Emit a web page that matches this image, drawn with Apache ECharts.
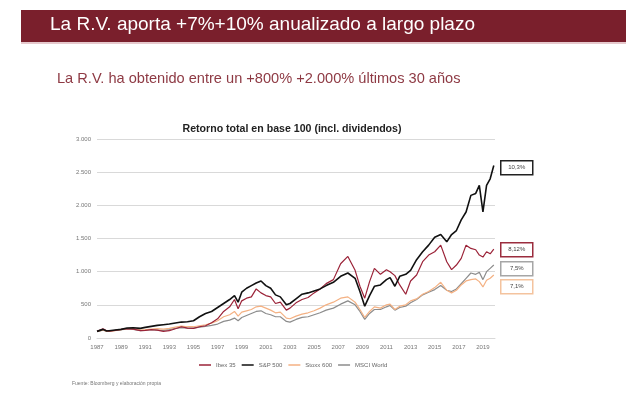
<!DOCTYPE html>
<html>
<head>
<meta charset="utf-8">
<script src="https://cdn.jsdelivr.net/npm/echarts@6/dist/echarts.min.js"></script>
<style>
  html, body { margin: 0; padding: 0; background: #fff; }
  #chart { width: 640px; height: 397px; }
</style>
</head>
<body>
<div id="chart"></div>
<script>
// fechas (año decimal) y valores en base 100
var dates = [1987.0, 1987.5, 1987.8, 1988.0, 1988.5, 1989.0, 1989.5, 1990.0, 1990.6, 1991.0,
  1991.5, 1992.0, 1992.5, 1993.0, 1993.5, 1994.0, 1994.5, 1995.0, 1995.5, 1996.0,
  1996.5, 1997.0, 1997.5, 1998.0, 1998.4, 1998.7, 1999.0, 1999.4, 1999.8, 2000.2,
  2000.6, 2001.0, 2001.4, 2001.8, 2002.2, 2002.7, 2003.0, 2003.5, 2004.0, 2004.5,
  2005.0, 2005.5, 2006.0, 2006.6, 2007.2, 2007.8, 2008.4, 2008.8, 2009.2, 2009.6,
  2010.0, 2010.5, 2011.0, 2011.3, 2011.7, 2012.1, 2012.6, 2013.0, 2013.5, 2014.0,
  2014.5, 2015.0, 2015.5, 2016.0, 2016.4, 2016.8, 2017.2, 2017.6, 2018.0, 2018.4,
  2018.7, 2019.0, 2019.3, 2019.6, 2019.9];

var ibex35 = [100, 140, 110, 105, 115, 130, 140, 135, 110, 115,
  125, 120, 100, 110, 140, 170, 150, 145, 170, 185,
  230, 290, 400, 470, 580, 440, 560, 600, 620, 740,
  680, 640, 620, 520, 540, 420, 450, 530, 580, 610,
  680, 740, 820, 880, 1120, 1230, 1020, 780, 600, 850,
  1050, 960, 1030, 1000, 940, 800, 660, 860, 950, 1150,
  1250, 1300, 1400, 1150, 1030, 1100, 1200, 1400, 1350, 1330,
  1250, 1220, 1300, 1270, 1340];

var sp500 = [100, 130, 105, 110, 120, 130, 150, 155, 145, 160,
  175, 190, 200, 210, 225, 240, 245, 260, 320, 370,
  400, 460, 520, 580, 640, 540, 690, 750, 790, 830,
  860, 790, 750, 650, 620, 500, 520, 590, 660, 680,
  710, 740, 790, 840, 930, 980, 900, 700, 480, 640,
  780, 800, 880, 910, 780, 930, 960, 1020, 1180, 1300,
  1400, 1520, 1560, 1450, 1560, 1620, 1780, 1900, 2150, 2180,
  2300, 1900, 2300, 2400, 2600];

var stoxx600 = [100, 120, 100, 100, 110, 125, 140, 145, 120, 125,
  135, 140, 135, 145, 165, 180, 170, 170, 185, 200,
  225, 260, 320, 350, 400, 330, 390, 410, 430, 470,
  480, 450, 420, 380, 390, 300, 290, 330, 360, 380,
  410, 450, 500, 540, 600, 620, 540, 430, 310, 400,
  470, 450, 500, 510, 430, 480, 500, 560, 590, 660,
  700, 760, 840, 720, 680, 720, 800, 860, 880, 890,
  850, 770, 870, 900, 950];

var msciWorld = [100, 120, 100, 105, 115, 125, 135, 130, 110, 115,
  125, 120, 115, 125, 145, 155, 150, 150, 165, 175,
  190, 210, 250, 270, 300, 260, 310, 340, 370, 400,
  410, 370, 350, 320, 320, 250, 240, 280, 310, 320,
  350, 380, 420, 450, 510, 560, 500, 400, 280, 370,
  430, 430, 470, 490, 420, 460, 480, 530, 580, 650,
  690, 730, 790, 720, 700, 740, 820, 900, 980, 960,
  990, 880, 1000, 1050, 1100];

var seriesNames = ['Ibex 35', 'S&P 500', 'Stoxx 600', 'MSCI World'];
var cagrLabels = ['10,3%', '8,12%', '7,5%', '7,1%'];

var startYear = 1987;

function pairs(values) {
  var out = [];
  for (var i = 0; i < dates.length; i++) {
    out.push([dates[i] - startYear, values[i]]);
  }
  return out;
}

function box(top, text, color) {
  return {
    type: 'group',
    left: 500,
    top: top,
    children: [{
      type: 'rect',
      shape: { x: 0, y: 0, width: 32, height: 14 },
      style: { fill: '#fff', stroke: color, lineWidth: 1.5 }
    }, {
      type: 'text',
      x: 16,
      y: 7,
      style: {
        text: text,
        fill: '#444',
        font: '6px "Liberation Sans"',
        align: 'center',
        verticalAlign: 'middle'
      }
    }]
  };
}

var chart = echarts.init(document.getElementById('chart'));

var option = {
  backgroundColor: '#fff',
  animation: false,
  title: {
    text: 'Retorno total en base 100 (incl. dividendos)',
    left: 287,
    top: 119,
    textAlign: 'center',
    textStyle: {
      fontFamily: 'Liberation Sans',
      fontSize: 10.6,
      fontWeight: 'bold',
      color: '#222'
    }
  },
  legend: {
    data: seriesNames,
    left: 194,
    top: 357,
    icon: 'rect',
    itemWidth: 12,
    itemHeight: 1.5,
    itemGap: 6,
    textStyle: {
      fontFamily: 'Liberation Sans',
      fontSize: 6,
      color: '#666'
    }
  },
  grid: {
    left: 97,
    right: 145,
    top: 139,
    bottom: 59
  },
  xAxis: {
    type: 'value',
    min: 0,
    max: 33,
    interval: 2,
    axisLine: { show: true, lineStyle: { color: '#d9d9d9', width: 1 } },
    axisTick: { show: false },
    splitLine: { show: false },
    axisLabel: {
      showMaxLabel: false,
      color: '#777',
      fontFamily: 'Liberation Sans',
      fontSize: 6,
      margin: 6,
      formatter: function (v) { return String(v + startYear); }
    }
  },
  yAxis: {
    type: 'value',
    min: 0,
    max: 3000,
    interval: 500,
    axisLine: { show: false },
    axisTick: { show: false },
    splitLine: { lineStyle: { color: '#d9d9d9', width: 1 } },
    axisLabel: {
      color: '#777',
      fontFamily: 'Liberation Sans',
      fontSize: 6,
      margin: 6,
      formatter: function (v) {
        return String(v).replace(/\B(?=(\d{3})+(?!\d))/g, '.');
      }
    }
  },
  series: [{
    name: 'MSCI World',
    type: 'line',
    data: pairs(msciWorld),
    showSymbol: false,
    color: '#8c8c8c',
    lineStyle: { width: 1.2 }
  }, {
    name: 'Stoxx 600',
    type: 'line',
    data: pairs(stoxx600),
    showSymbol: false,
    color: '#f4b183',
    lineStyle: { width: 1.2 }
  }, {
    name: 'Ibex 35',
    type: 'line',
    data: pairs(ibex35),
    showSymbol: false,
    color: '#9b2338',
    lineStyle: { width: 1.2 }
  }, {
    name: 'S&P 500',
    type: 'line',
    data: pairs(sp500),
    showSymbol: false,
    color: '#111111',
    lineStyle: { width: 1.6 }
  }],
  graphic: [{
    type: 'rect',
    left: 21,
    top: 10,
    shape: { width: 605, height: 32 },
    style: { fill: '#7a1f2c' }
  }, {
    type: 'rect',
    left: 21,
    top: 42,
    shape: { width: 605, height: 2 },
    style: { fill: '#e6c9cd' }
  }, {
    type: 'text',
    left: 50,
    top: 15,
    style: {
      text: 'La R.V. aporta +7%+10% anualizado a largo plazo',
      fill: '#ffffff',
      font: '19px "Liberation Sans"'
    }
  }, {
    type: 'text',
    left: 57,
    top: 71,
    style: {
      text: 'La R.V. ha obtenido entre un +800% +2.000% últimos 30 años',
      fill: '#8e3a44',
      font: '14.6px "Liberation Sans"'
    }
  }, {
    type: 'text',
    left: 72,
    top: 381,
    style: {
      text: 'Fuente: Bloomberg y elaboración propia',
      fill: '#777',
      font: '5px "Liberation Sans"'
    }
  },
    box(160, cagrLabels[0], '#222222'),
    box(242, cagrLabels[1], '#9b2d3e'),
    box(261, cagrLabels[2], '#a6a6a6'),
    box(279, cagrLabels[3], '#f4c39e')
  ]
};

chart.setOption(option);
</script>
</body>
</html>
